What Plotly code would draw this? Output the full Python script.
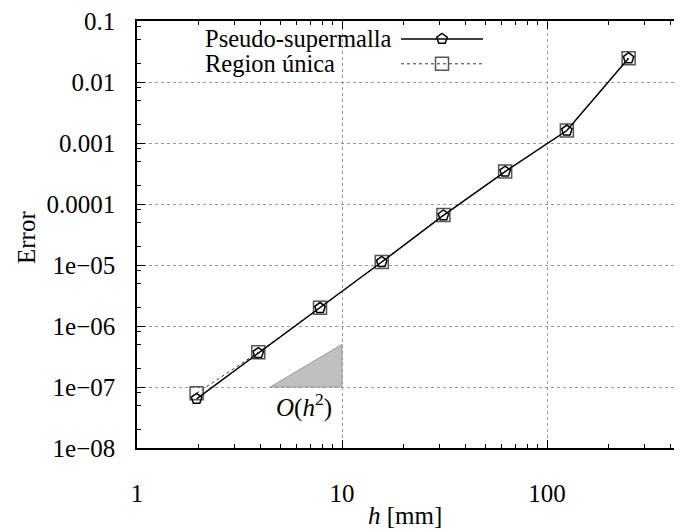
import numpy as np
import plotly.graph_objects as go

# ---- data ----
h_vals = [1.953125, 3.90625, 7.8125, 15.625, 31.25, 62.5, 125, 250]
err_pseudo = [6.4e-8, 3.6e-7, 1.97e-6, 1.12e-5, 6.5e-5, 3.4e-4, 1.6e-3, 2.45e-2]
err_unica = [7.9e-8, 3.7e-7, 2.0e-6, 1.12e-5, 6.6e-5, 3.4e-4, 1.6e-3, 2.45e-2]
series_names = ["Pseudo-supermalla", "Region única"]

slope_x = [4.4721, 10, 10, 4.4721]
slope_y = [1e-7, 1e-7, 5e-7, 1e-7]

x_ticks = [1, 10, 100]
x_ticktext = ["1", "10", "100"]
y_ticks = [1e-8, 1e-7, 1e-6, 1e-5, 1e-4, 1e-3, 1e-2, 1e-1]
y_ticktext = ["1e\u221208", "1e\u221207", "1e\u221206", "1e\u221205", "0.0001", "0.001", "0.01", "0.1"]

x_minor = [m * 10 ** d for d in range(0, 3) for m in range(2, 10) if m * 10 ** d < 460]
y_minor = [m * 10.0 ** d for d in range(-8, -1) for m in (2, 5, 8)]

FONT = "Liberation Serif"
FS = 25
OFF = 8  # page body margin offset
W, H = 682 - OFF, 532 - OFF
# target plot area in screenshot pixels
PL, PR, PT, PB = 137, 682, 19, 448
L, R, T, B = PL - OFF, 0, PT - OFF, H - (PB - OFF)
x_range = [0, (PR - PL) / 205.0]

fig = go.Figure()

# slope triangle
fig.add_trace(go.Scatter(x=slope_x, y=slope_y, mode="lines", fill="toself",
                         fillcolor="#c0c0c0", line=dict(color="#9a9a9a", width=1),
                         showlegend=False, hoverinfo="skip"))

fig.add_trace(go.Scatter(x=h_vals, y=err_unica, mode="lines+markers", name=series_names[1],
                         line=dict(color="#333333", width=1, dash="dot"),
                         marker=dict(symbol="square-open", size=13, color="#555555",
                                     line=dict(width=1.5)),
                         showlegend=False))
fig.add_trace(go.Scatter(x=h_vals, y=err_pseudo, mode="lines+markers", name=series_names[0],
                         line=dict(color="black", width=1.5),
                         marker=dict(symbol="pentagon-open", size=11, color="black",
                                     line=dict(width=1.5)),
                         showlegend=False))

# custom legend on an overlay axis in [0,1]
pw = PR - PL
ph = PB - PT
def px(xp):
    return (xp - PL) / pw
def py(yp):
    return (PB - yp) / ph

lx = [px(401), px(483)]
mx = [px(442)]
for i, (yy, dash, sym, col) in enumerate([(37, "solid", "pentagon-open", "black"),
                                          (62, "dot", "square-open", "#555555")]):
    fig.add_trace(go.Scatter(x=lx, y=[py(yy)] * 2, mode="lines", xaxis="x2", yaxis="y2",
                             line=dict(color="black" if i == 0 else "#333333",
                                       width=1.5 if i == 0 else 1, dash=dash),
                             showlegend=False, hoverinfo="skip"))
    fig.add_trace(go.Scatter(x=mx, y=[py(yy)], mode="markers", xaxis="x2", yaxis="y2",
                             marker=dict(symbol=sym, size=11 if i == 0 else 13, color=col,
                                         line=dict(width=1.5)),
                             showlegend=False, hoverinfo="skip"))
    fig.add_annotation(x=px(203), y=py(yy), xref="x2", yref="y2", text=series_names[i],
                       showarrow=False, xanchor="left", yanchor="middle",
                       font=dict(family=FONT, size=24.5, color="black"))

fig.add_annotation(x=np.log10(6.55), y=-7.3, xref="x", yref="y",
                   text="<i>O</i>(<i>h</i><sup>2</sup>)", showarrow=False,
                   font=dict(family=FONT, size=FS, color="black"))

fig.add_annotation(x=px(405), y=py(516), xref="paper", yref="paper",
                   text="<i>h</i> [mm]", showarrow=False, yanchor="middle",
                   font=dict(family=FONT, size=FS, color="black"))
fig.add_annotation(x=px(27), y=py(237), xref="paper", yref="paper", textangle=-90,
                   text="Error", showarrow=False, xanchor="center", yanchor="middle",
                   font=dict(family=FONT, size=FS, color="black"))

axis_common = dict(showline=True, linecolor="black", linewidth=1.5,
                   ticks="inside", ticklen=8, tickwidth=1, tickcolor="black",
                   showgrid=True, gridcolor="#999999", gridwidth=1, griddash="dot",
                   zeroline=False, ticklabeloverflow="allow",
                   tickfont=dict(family=FONT, size=FS, color="black"))

fig.update_layout(
    width=W, height=H,
    margin=dict(l=L, r=R, t=T, b=B),
    paper_bgcolor="white", plot_bgcolor="white",
    xaxis=dict(type="log", range=x_range, tickmode="array", tickvals=x_ticks,
               ticktext=x_ticktext, mirror="ticks", ticklabelstandoff=22,
               minor=dict(tickmode="array", tickvals=x_minor, ticks="inside", ticklen=4,
                          tickcolor="black", showgrid=False),
               **axis_common),
    yaxis=dict(type="log", range=[-8, -1], tickmode="array", tickvals=y_ticks,
               ticktext=y_ticktext, mirror=False, ticklabelstandoff=15,
               minor=dict(tickmode="array", tickvals=y_minor, ticks="inside", ticklen=4,
                          tickcolor="black", showgrid=False),
               **axis_common),
    xaxis2=dict(overlaying="x", range=[0, 1], visible=False, fixedrange=True),
    yaxis2=dict(overlaying="y", range=[0, 1], visible=False, fixedrange=True),
)

fig.write_html("out.html")
